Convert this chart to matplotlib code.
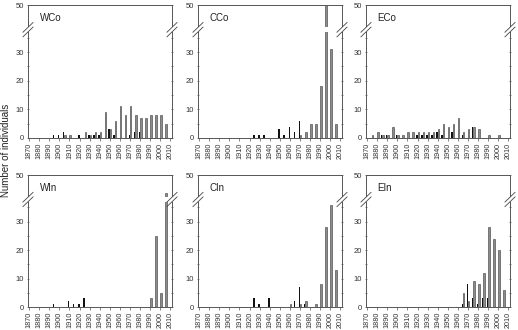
import matplotlib
matplotlib.use("Agg")
import matplotlib.pyplot as plt
import matplotlib.transforms as mtransforms
from matplotlib.patches import Rectangle
import numpy as np

plt.rcParams['font.family'] = ['Liberation Sans', 'DejaVu Sans']

# 5-year bins, 1870 ... 2005
bins = np.arange(1870, 2010, 5)

names = ["WCo", "CCo", "ECo", "WIn", "CIn", "EIn"]

wco_black = [0,0,0,0,0,1,1,2,0,0,1,0,1,1,1,0,3,1,0,0,1,2,2,0,0,0,0,0]
wco_gray  = [0,0,0,0,0,0,0,1,1,0,0,2,1,2,2,9,3,6,11,8,11,8,7,7,8,8,8,5]
cco_black = [0,0,0,0,0,0,0,0,0,0,0,1,1,1,0,0,3,1,4,2,6,0,0,0,0,0,0,0]
cco_gray  = [0,0,0,0,0,0,0,0,0,0,0,0,0,0,0,0,0,0,0,0,1,2,5,5,18,50,31,5]
eco_black = [0,0,0,1,1,0,1,0,0,0,1,1,1,1,2,1,0,2,0,1,0,4,0,0,0,0,0,0]
eco_gray  = [0,1,2,1,1,4,1,1,2,2,2,2,2,2,3,5,4,5,7,2,3,4,3,0,1,0,1,0]
win_black = [0,0,0,0,0,1,0,0,2,1,1,3,0,0,0,0,0,0,0,0,0,0,0,0,0,0,0,0]
win_gray  = [0,0,0,0,0,0,0,0,0,0,0,0,0,0,0,0,0,0,0,0,0,0,0,0,3,25,5,41]
cin_black = [0,0,0,0,0,0,0,0,0,0,0,3,1,0,3,0,0,0,0,2,7,1,0,0,0,0,0,0]
cin_gray  = [0,0,0,0,0,0,0,0,0,0,0,0,0,0,0,0,0,0,1,0,1,2,0,1,8,28,36,13]
ein_black = [0,0,0,0,0,0,0,0,0,0,0,0,0,0,0,0,0,0,0,1,8,3,1,3,3,0,0,0]
ein_gray  = [0,0,0,0,0,0,0,0,0,0,0,0,0,0,0,0,0,0,0,5,2,9,8,12,28,24,20,6]

blacks = [wco_black, cco_black, eco_black, win_black, cin_black, ein_black]
grays = [wco_gray, cco_gray, eco_gray, win_gray, cin_gray, ein_gray]

yticks = [0, 10, 20, 30, 50]

# broken y axis: linear up to BRK, compressed above
BRK = 38.0
K = 0.7


def fwd(v):
    v = np.asarray(v, float)
    return np.where(v <= BRK, v, BRK + (v - BRK) * K)


def inv(f):
    f = np.asarray(f, float)
    return np.where(f <= BRK, f, BRK + (f - BRK) / K)


W, H = 518, 330
fig = plt.figure(figsize=(W / 100, H / 100), dpi=100)

lefts = [28, 198, 366]
tops = [5, 175]
bottoms = [138, 307]
axw = 144

spine_c = '#555555'
for i in range(6):
    r, c = divmod(i, 3)
    ax = fig.add_axes([lefts[c] / W, 1 - bottoms[r] / H, axw / W,
                       (bottoms[r] - tops[r]) / H])
    ax.set_yscale('function', functions=(fwd, inv))
    b = np.array(blacks[i])
    g = np.array(grays[i])
    mb = b > 0
    mg = g > 0
    ax.bar(bins[mb] - 0.7, b[mb], width=1.4, color='#111111', zorder=2)
    ax.bar(bins[mg] + 0.7, g[mg], width=1.4, color='#8c8c8c',
           edgecolor='#3a3a3a', linewidth=0.4, zorder=2)

    ax.set_xlim(1869, 2011.5)
    ax.set_ylim(0, 50)
    ax.set_yticks(yticks)
    ax.set_yticks([5, 15, 25, 35], minor=True)
    ax.set_xticks(np.arange(1870, 2011, 10))
    ax.set_xticklabels([str(y) for y in range(1870, 2011, 10)], rotation=90)
    ax.tick_params(axis='x', labelsize=5.2, length=2, width=0.5,
                   color=spine_c, labelcolor='#333333', pad=1.5)
    ax.tick_params(axis='y', which='both', labelsize=5.5, length=2, width=0.5,
                   direction='inout', right=True, color=spine_c,
                   labelcolor='#333333', pad=2)
    ax.tick_params(axis='y', which='minor', length=1.5)
    for s in ax.spines.values():
        s.set_color(spine_c)
        s.set_linewidth(0.7)

    ax.text(0.08, 0.905, names[i], transform=ax.transAxes, fontsize=7,
            color='#222222', va='center', ha='left', zorder=7)

    # break marks
    tr = mtransforms.blended_transform_factory(ax.transAxes, ax.transData)
    lo, hi = 37.0, 38.6
    ax.add_patch(Rectangle((-0.05, float(inv(lo))), 1.1,
                           float(inv(hi) - inv(lo)), transform=tr,
                           facecolor='white', edgecolor='none', zorder=5,
                           clip_on=False))
    for x0 in (0, 1):
        for fc in (lo, hi):
            ax.plot([x0 - 0.035, x0 + 0.035],
                    inv([fc - 1.7, fc + 1.7]), transform=tr,
                    color='#444444', lw=0.6, zorder=6, clip_on=False)

fig.text(0.012, 0.545, "Number of individuals", rotation=90, fontsize=7,
         color='#222222', ha='center', va='center')

fig.savefig("out.png", dpi=100)
